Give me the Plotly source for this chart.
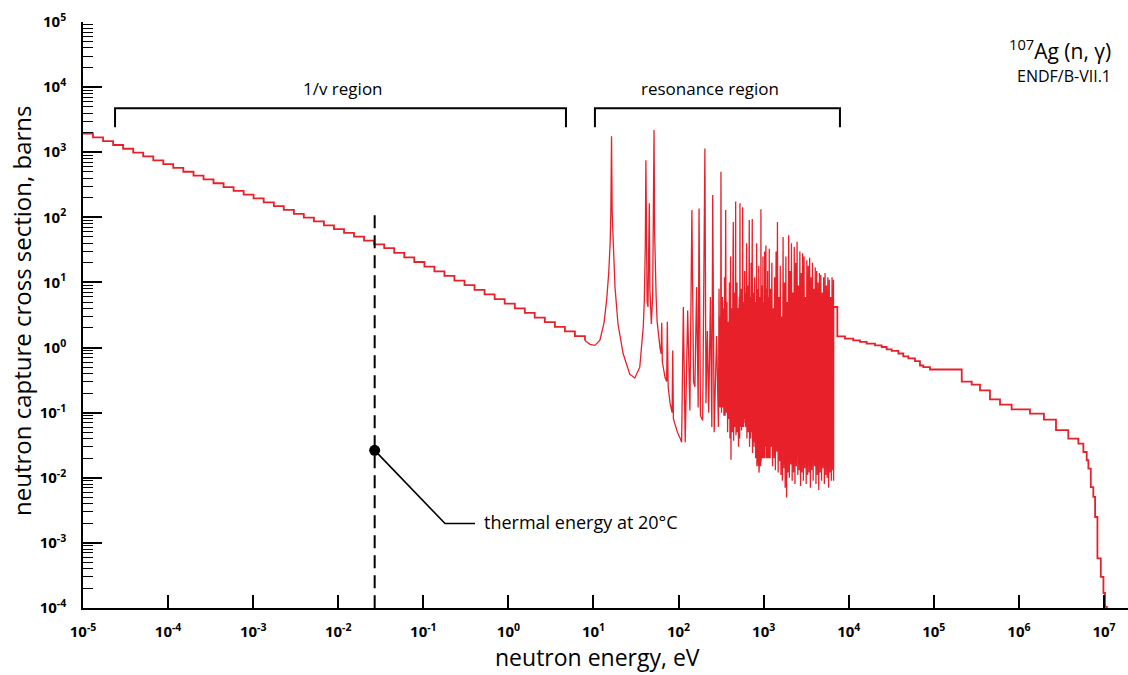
import plotly.graph_objects as go

# ---------------- data ----------------
# 1/v region: histogram staircase (energy eV, cross section barns)
ov_E = [1.0e-5, 1.31e-5, 1.72e-5, 2.26e-5, 2.96e-5, 3.89e-5, 5.10e-5, 6.70e-5, 8.79e-5, 1.15e-4,
        1.51e-4, 1.99e-4, 2.61e-4, 3.42e-4, 4.49e-4, 5.89e-4, 7.73e-4, 1.01e-3, 1.33e-3, 1.75e-3,
        2.29e-3, 3.01e-3, 3.94e-3, 5.18e-3, 6.79e-3, 8.91e-3, 1.17e-2, 1.53e-2, 2.01e-2, 2.64e-2,
        3.47e-2, 4.55e-2, 5.97e-2, 7.83e-2, 0.103, 0.135, 0.177, 0.232, 0.305, 0.400,
        0.525, 0.689, 0.904, 1.19, 1.56, 2.04, 2.68, 3.52, 4.61, 6.05, 7.94]
ov_sig = [1940, 1690, 1480, 1290, 1130, 986, 861, 752, 656, 574,
          501, 438, 383, 334, 292, 255, 223, 195, 170, 149,
          130, 113, 99, 86.5, 75.5, 66.1, 57.7, 50.4, 44.0, 38.5,
          33.6, 28.5, 24.2, 20.6, 17.5, 14.8, 12.6, 10.7, 9.08, 7.71,
          6.55, 5.56, 4.72, 4.01, 3.40, 2.89, 2.45, 2.08, 1.77, 1.50, 1.28]

# resonance region, low part (isolated resonances)
resA_E = [7.94, 9.1, 10.4, 11.9, 13.3, 14.3, 15.1, 15.7, 16.0, 16.3,
          16.6, 17.0, 17.9, 19.4, 22.3, 26.7, 30.6, 35.0, 38.5, 39.6,
          40.7, 41.3, 41.9, 42.7, 43.7, 44.6, 45.3, 46.0, 47.0, 47.9,
          49.6, 50.8, 51.5, 52.3, 53.2, 54.5, 56.0, 57.8, 60.5, 62.5,
          63.4, 64.5, 69.3, 72.5, 73.8, 75.5, 79.4, 84.0, 85.4, 87.0,
          90.8, 97.0, 104, 108.6, 113.8, 119.7, 128, 135.9, 143.5, 150,
          155.6, 163, 170, 174, 181, 192, 204]
resA_sig = [1.28, 1.12, 1.08, 1.3, 2.4, 5.5, 14, 40, 120, 1760,
            110, 40, 8.5, 2.3, 0.81, 0.39, 0.34, 0.5, 2.1, 5.4,
            40, 750, 40, 5, 4.2, 20, 165, 8, 2.6, 2.3,
            6, 80, 2190, 60, 15, 6, 2.5, 1.6, 1.0, 0.8,
            2.4, 0.6, 0.35, 0.3, 2.5, 0.25, 0.14, 0.1, 0.9, 0.08,
            0.067, 0.05, 0.041, 0.035, 4.2, 0.035, 3.7, 0.108, 130, 0.3,
            0.25, 8.5, 0.12, 137, 0.09, 0.076, 1140]

# resonance region, middle part (200 eV - 1.2 keV)
resB_E = [210, 218, 226, 237, 246, 252, 262, 280, 294, 299,
          304, 309, 312, 315, 320, 327, 331, 335, 341, 347,
          352, 358, 364, 371, 377, 384, 390, 396, 402, 409,
          413, 419, 422, 425, 429, 435, 437, 440, 444, 452,
          454, 456, 459, 465, 467, 469, 473, 480, 482, 486,
          490, 497, 499, 503, 507, 514, 515, 518, 522, 527,
          531, 540, 541, 546, 549, 558, 560, 567, 571, 578,
          580, 584, 588, 593, 595, 598, 602, 610, 612, 616,
          619, 625, 627, 631, 636, 645, 647, 654, 659, 670,
          672, 678, 683, 691, 693, 698, 701, 707, 709, 712,
          717, 729, 730, 735, 740, 752, 754, 760, 765, 777,
          779, 785, 792, 805, 806, 812, 816, 828, 834, 846,
          848, 852, 858, 870, 871, 876, 882, 895, 897, 903,
          909, 922, 923, 929, 935, 948, 950, 955, 961, 975,
          976, 981, 987, 999, 1000, 1005, 1010, 1021, 1022, 1027,
          1036, 1052, 1054, 1064, 1070, 1084, 1085, 1090, 1096, 1108,
          1109, 1114, 1120, 1134, 1135, 1140, 1146, 1158, 1159, 1164,
          1173, 1190, 1192]
resB_sig = [0.14, 1.8, 0.1, 6, 0.06, 220, 0.05, 1.5, 0.06, 8,
            0.12, 3, 0.12, 500, 0.1, 6, 0.12, 4, 0.09, 12,
            0.09, 130, 0.1, 5, 0.05, 2.5, 0.08, 10, 0.04, 25,
            0.019, 4, 0.06, 3.5, 0.05, 12, 0.07, 85, 0.037, 5,
            0.08, 7, 0.06, 3, 0.08, 175, 0.045, 6, 0.07, 10,
            0.05, 4, 0.07, 2.5, 0.03, 4, 0.06, 6, 0.04, 164,
            0.06, 3, 0.07, 8, 0.053, 6, 0.06, 143, 0.08, 4,
            0.06, 5, 0.07, 3, 0.08, 15, 0.11, 7, 0.06, 4,
            0.09, 6, 0.05, 40, 0.04, 3, 0.06, 9, 0.05, 5,
            0.04, 91, 0.03, 4, 0.05, 6, 0.04, 3, 0.05, 20,
            0.05, 5, 0.04, 94, 0.024, 4, 0.03, 7, 0.035, 5,
            0.03, 12, 0.03, 4, 0.02, 5, 0.04, 40, 0.015, 5,
            0.02, 8, 0.02, 4, 0.015, 18, 0.012, 4, 0.02, 6,
            0.02, 5, 0.015, 133, 0.018, 4, 0.02, 9, 0.022, 5,
            0.02, 25, 0.025, 3, 0.02, 5, 0.03, 4, 0.02, 30,
            0.03, 6, 0.02, 37, 0.02, 4, 0.02, 8, 0.025, 5,
            0.02, 15, 0.02, 4, 0.02, 6, 0.03, 5, 0.02, 33,
            0.03, 6, 0.02]

# resonance region, dense upper part (1.2 keV - 6.6 keV)
resC_E = [1203, 1227, 1249, 1273, 1298, 1323, 1348, 1374, 1400, 1427,
          1453, 1482, 1510, 1539, 1568, 1598, 1628, 1660, 1692, 1724,
          1757, 1791, 1825, 1860, 1895, 1932, 1969, 2006, 2045, 2084,
          2123, 2164, 2205, 2248, 2290, 2335, 2379, 2425, 2471, 2519,
          2566, 2616, 2665, 2717, 2768, 2822, 2875, 2931, 2986, 3044,
          3101, 3162, 3221, 3284, 3345, 3411, 3474, 3542, 3609, 3679,
          3748, 3821, 3893, 3969, 4043, 4122, 4199, 4281, 4361, 4446,
          4530, 4618, 4705, 4796, 4887, 4981, 5075, 5173, 5271, 5373,
          5475, 5580, 5686, 5796, 5906, 6019, 6134, 6252, 6371, 6493,
          6617, 6640, 6660]
resC_sig = [8, 0.03, 20, 0.015, 4, 0.02, 12, 0.013, 30, 0.025,
            85, 0.012, 6, 0.018, 18, 0.011, 3, 0.009, 50, 0.014,
            10, 0.007, 25, 0.005, 5, 0.012, 53, 0.01, 15, 0.016,
            40, 0.009, 7, 0.012, 35, 0.008, 20, 0.015, 42, 0.011,
            9, 0.013, 30, 0.0075, 14, 0.012, 28, 0.009, 25, 0.014,
            6, 0.008, 22, 0.011, 18, 0.012, 24, 0.007, 12, 0.013,
            20, 0.009, 8, 0.015, 17, 0.008, 15, 0.011, 10, 0.0065,
            14, 0.012, 13, 0.009, 7, 0.014, 12, 0.008, 14, 0.011,
            9, 0.01, 12, 0.007, 11, 0.012, 6, 0.009, 12, 0.013,
            11, 0.009, 4.2]

# fast region: histogram staircase
fast_E = [6660, 7350, 9040, 11300, 13560, 16240, 20360, 24400, 27900, 32000,
          38300, 43800, 50200, 60100, 68800, 75300, 90200, 213000, 279000, 349000,
          457000, 600000, 822000, 1.35e6, 1.97e6, 2.73e6, 3.81e6, 5.0e6, 5.73e6, 6.27e6,
          6.56e6, 7.0e6, 7.5e6, 7.87e6, 8.38e6, 9.18e6, 9.86e6, 1.03e7, 1.08e7]
fast_sig = [4.2, 1.49, 1.37, 1.29, 1.22, 1.15, 1.08, 1.02, 0.94, 0.89,
            0.81, 0.73, 0.68, 0.62, 0.53, 0.50, 0.46, 0.30, 0.27, 0.22,
            0.16, 0.133, 0.112, 0.097, 0.078, 0.054, 0.040, 0.0335, 0.0249, 0.0186,
            0.0138, 0.0072, 0.0051, 0.0025, 5.8e-4, 3.0e-4, 1.7e-4, 1.04e-4, 5e-5]

# thermal point marker (as placed in the picture)
thermal_E = 0.0268
thermal_dot_sig = 0.0264
dash_sig = [108, 1e-4]
leader_E = [0.0268, 0.18, 0.405]
leader_sig = [0.0264, 0.00198, 0.00198]

# region brackets
br_sig = [2420, 4740, 4740, 2420]
br1_E = [2.38e-5, 2.38e-5, 4.75, 4.75]
br2_E = [10.4, 10.4, 7890, 7890]

# axis ticks
x_exps = list(range(-5, 8))
y_exps = list(range(-4, 6))

assert len(resA_E) == len(resA_sig)
assert len(resB_E) == len(resB_sig)
assert len(resC_E) == len(resC_sig)
assert len(fast_E) == len(fast_sig)
assert len(ov_E) == len(ov_sig)

# ---------------- figure ----------------
FONT = "Open Sans"
RED = "#e8202a"
L, R, T, B = 83, 0, 22, 67
W, H = 1128, 675
PW, PH = W - L - R, H - T - B


def px(xp):
    return (xp - L) / PW


def py(yp):
    return (H - B - yp) / PH


fig = go.Figure()
common = dict(mode="lines", hoverinfo="skip", showlegend=False)
fig.add_trace(go.Scatter(x=ov_E, y=ov_sig, line=dict(color=RED, width=1.8, shape="hv"), **common))
fig.add_trace(go.Scatter(x=resA_E + resB_E + resC_E, y=resA_sig + resB_sig + resC_sig,
                         line=dict(color=RED, width=1.3), **common))
fig.add_trace(go.Scatter(x=fast_E, y=fast_sig, line=dict(color=RED, width=1.8, shape="hv"), **common))

fig.add_trace(go.Scatter(x=[thermal_E, thermal_E], y=dash_sig,
                         line=dict(color="black", width=2, dash="13px,7px"), **common))
fig.add_trace(go.Scatter(x=leader_E, y=leader_sig, line=dict(color="black", width=1.6), **common))
fig.add_trace(go.Scatter(x=[thermal_E], y=[thermal_dot_sig], mode="markers",
                         marker=dict(color="black", size=11), hoverinfo="skip", showlegend=False))
fig.add_trace(go.Scatter(x=br1_E, y=br_sig, line=dict(color="black", width=2), **common))
fig.add_trace(go.Scatter(x=br2_E, y=br_sig, line=dict(color="black", width=2), **common))

minor_y = [m * 10.0 ** k for k in range(-4, 5) for m in range(2, 10)]

fig.update_xaxes(type="log", range=[-5, -5 + PW / 85.08],
                 tickvals=[10.0 ** e for e in x_exps],
                 ticktext=[f"<b>10<sup>{e}</sup></b>" for e in x_exps],
                 ticks="inside", ticklen=13, tickwidth=1.6, tickcolor="black",
                 showline=True, linecolor="black", linewidth=1.6,
                 showgrid=False, zeroline=False,
                 tickfont=dict(family=FONT, size=15, color="black"),
                 ticklabelstandoff=9)
fig.update_yaxes(type="log", range=[-4, 5],
                 tickvals=[10.0 ** e for e in y_exps],
                 ticktext=[f"<b>10<sup>{e}</sup></b>" for e in y_exps],
                 ticks="inside", ticklen=19, tickwidth=1.6, tickcolor="black",
                 minor=dict(tickvals=minor_y, ticks="inside", ticklen=10, tickwidth=1.2,
                            tickcolor="black", showgrid=False),
                 showline=True, linecolor="black", linewidth=1.6,
                 showgrid=False, zeroline=False,
                 tickfont=dict(family=FONT, size=15, color="black"),
                 ticklabelstandoff=12)

ann = []
ann.append(dict(text="neutron capture cross section, barns", x=px(21), y=py(311), xref="paper", yref="paper",
                textangle=-90, showarrow=False, xanchor="center", yanchor="middle",
                font=dict(family=FONT, size=24, color="black")))
ann.append(dict(text="neutron energy, eV", x=px(597), y=py(657), xref="paper", yref="paper",
                showarrow=False, xanchor="center", yanchor="middle",
                font=dict(family=FONT, size=23, color="black")))
ann.append(dict(text="1/v region", x=px(343), y=py(88), xref="paper", yref="paper",
                showarrow=False, xanchor="center", yanchor="middle",
                font=dict(family=FONT, size=17, color="black")))
ann.append(dict(text="resonance region", x=px(710), y=py(88), xref="paper", yref="paper",
                showarrow=False, xanchor="center", yanchor="middle",
                font=dict(family=FONT, size=17, color="black")))
ann.append(dict(text="thermal energy at 20°C", x=px(482), y=py(522), xref="paper", yref="paper",
                showarrow=False, xanchor="left", yanchor="middle",
                font=dict(family=FONT, size=18, color="black")))
ann.append(dict(text="<sup>107</sup>Ag (n, γ)", x=px(1113), y=py(49), xref="paper", yref="paper",
                showarrow=False, xanchor="right", yanchor="middle",
                font=dict(family=FONT, size=21, color="black")))
ann.append(dict(text="ENDF/B-VII.1", x=px(1113), y=py(76), xref="paper", yref="paper",
                showarrow=False, xanchor="right", yanchor="middle",
                font=dict(family=FONT, size=16, color="black")))

fig.update_layout(width=W, height=H, margin=dict(l=L, r=R, t=T, b=B),
                  paper_bgcolor="white", plot_bgcolor="white",
                  annotations=ann, showlegend=False)

fig.write_html("out.html")
